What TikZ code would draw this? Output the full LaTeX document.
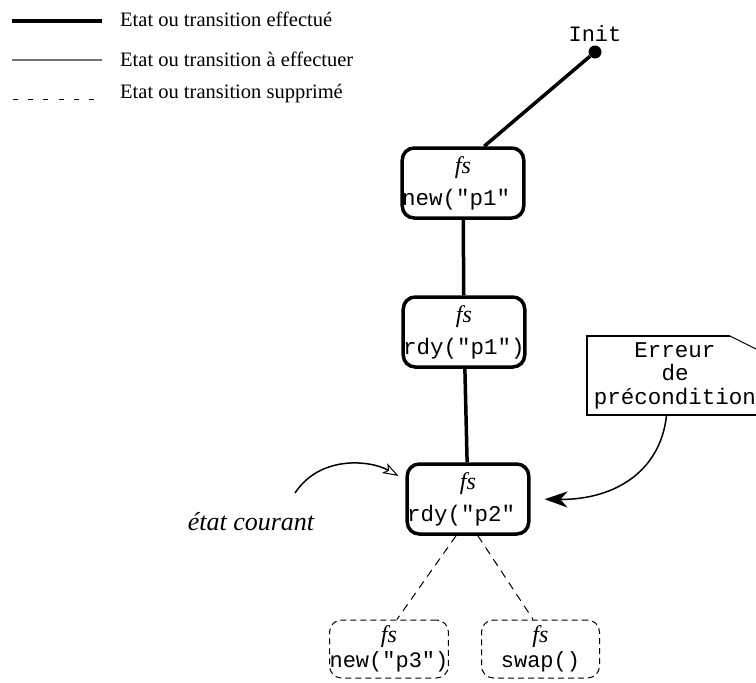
\documentclass[tikz,border=0pt]{standalone}
\usepackage{fontspec}
\setmainfont{Liberation Serif}
\setmonofont{Liberation Mono}
\usetikzlibrary{arrows.meta}

\begin{document}
\begin{tikzpicture}[x=1pt, y=-1pt,
    etat/.style={rectangle, draw, rounded corners=12pt, line width=3.5pt, minimum width=120pt, minimum height=70pt, inner sep=0pt, align=center, font=\fontsize{22.5}{32}\selectfont},
    supprime/.style={rectangle, draw, rounded corners=12pt, line width=1pt, dash pattern=on 6pt off 4pt, minimum width=118pt, minimum height=58pt, inner sep=0pt, align=center, font=\fontsize{22}{25}\selectfont},
    fait/.style={line width=3.5pt},
    enleve/.style={line width=1pt, dash pattern=on 8pt off 6pt},
    legende/.style={anchor=base west, inner sep=0pt, font=\fontsize{20.5}{24}\selectfont}]
    \useasboundingbox (0,0) rectangle (756,683);
    \clip (0,0) rectangle (756,683);

    % Legend
    \draw[line width=4pt] (12,21) -- (102,21);
    \draw[line width=1.5pt, black!55] (12,60) -- (102,60);
    \draw[line width=1pt, dash pattern=on 5pt off 10.3pt] (12.7,99) -- (96,99);
    \node [legende] (leg1) at (120,26) {Etat ou transition effectué};
    \node [legende] (leg2) at (120,66) {Etat ou transition à effectuer};
    \node [legende] (leg3) at (120,98) {Etat ou transition supprimé};

    % States
    \node [circle, fill, inner sep=0pt, minimum size=13pt] (init) at (595,52) {};
    \node [font=\ttfamily\fontsize{22}{24}\selectfont] (initlabel) at (595,34) {Init};
    \node [etat] (box1) at (463,183) {{\fontsize{24}{24}\selectfont\textit{fs}}\\\texttt{new("p1"\phantom{)}}};
    \node [etat] (box2) at (464,332) {{\fontsize{24}{24}\selectfont\textit{fs}}\\\texttt{rdy("p1")}};
    \node [etat] (box3) at (468,499) {{\fontsize{24}{24}\selectfont\textit{fs}}\\\texttt{rdy("p2"\phantom{)}}};
    \node [supprime] (box4) at (389,649) {{\fontsize{24}{24}\selectfont\textit{fs}}\\\texttt{new("p3")}};
    \node [supprime] (box5) at (540.5,649) {{\fontsize{24}{24}\selectfont\textit{fs}}\\\texttt{swap()}};

    % Transitions
    \draw[fait] (init) -- (box1.60);
    \draw[fait] (box1) -- (box2);
    \draw[fait] (box2) -- (box3);
    \draw[enleve] (box3.252) -- (box4.75);
    \draw[enleve] (box3.285) -- (box5.104);

    % Error note
    \node [font=\ttfamily\fontsize{22.5}{23.5}\selectfont, align=center, minimum width=174pt, minimum height=79pt, inner sep=0pt] (err) at (675,375.5) {Erreur\\de\\précondition};
    \draw[line width=1.5pt] (730,336) -- (587,336) -- (587,415) -- (770,415);
    \draw[line width=1pt] (730,336) -- (770,356);
    \draw[line width=1.5pt, -{Stealth[length=23pt, width=16pt, inset=7pt]}, shorten >=14pt] (err.258) .. controls (660,475) and (610,500) .. (box3.east);

    % Current state
    \node [font=\itshape\fontsize{26}{30}\selectfont, inner sep=0pt] (courant) at (251,522) {état courant};
    \coordinate (depart) at (295,493);
    \draw[line width=1.5pt, -{Stealth[open, line width=1pt, length=16pt, width=11pt, inset=4pt]}, shorten >=8pt] (depart) .. controls (320,455) and (370,460) .. (box3.163);
\end{tikzpicture}
\end{document}
